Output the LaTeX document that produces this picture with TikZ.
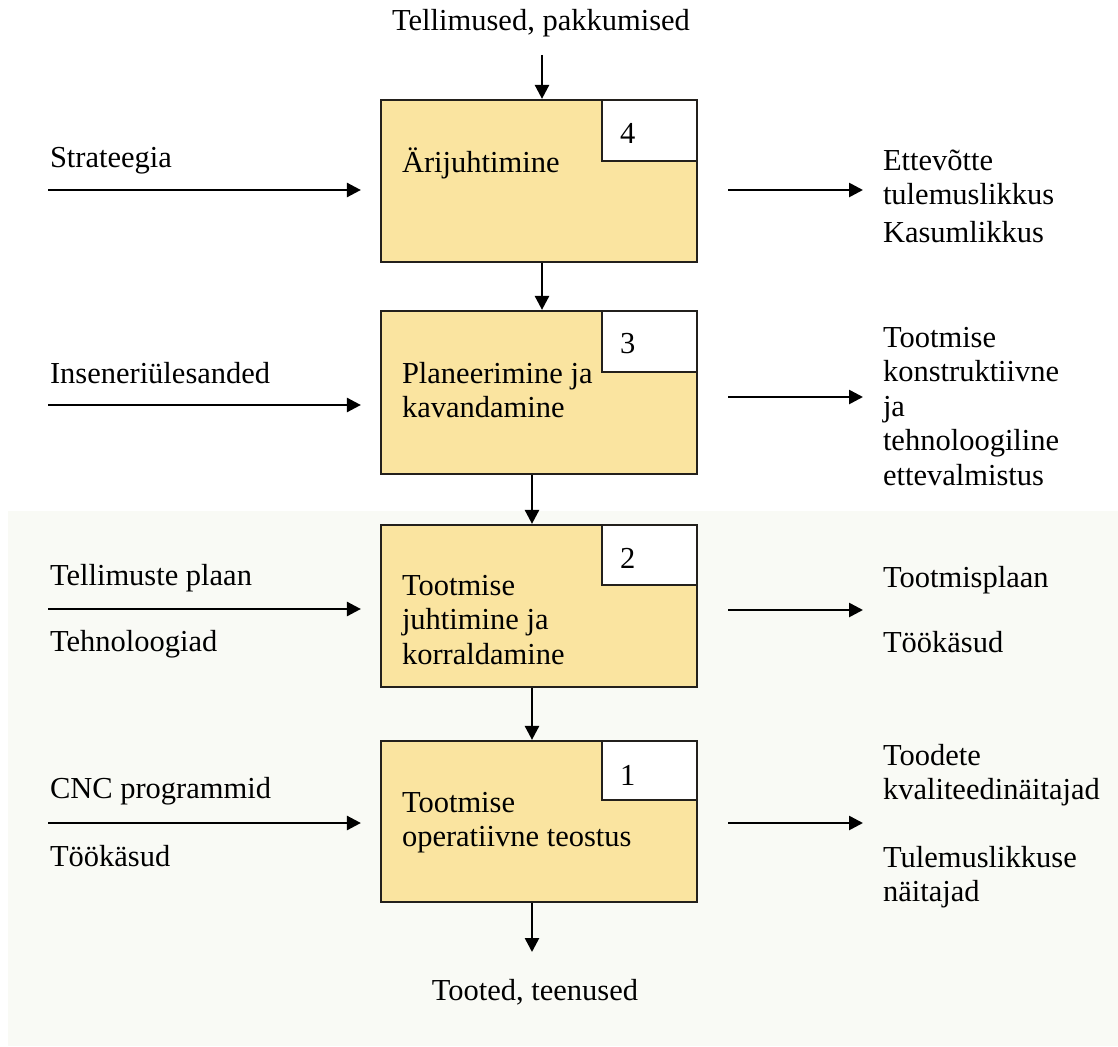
\documentclass[tikz,border=0pt]{standalone}
\usepackage{fontspec}
\setmainfont{Liberation Serif}
\usetikzlibrary{arrows.meta}
\definecolor{boxfill}{RGB}{250,228,160}
\definecolor{bgpanel}{RGB}{249,250,245}
\definecolor{edgecol}{RGB}{35,32,28}
\begin{document}
\begin{tikzpicture}[x=1pt,y=-1pt,
  txt/.style={font=\fontsize{30.5}{35}\selectfont, inner sep=0pt, outer sep=0pt, align=left, anchor=base west},
  mtxt/.style={font=\fontsize{30.5}{34.5}\selectfont, inner sep=0pt, outer sep=0pt, align=left, anchor=north west, yshift=24.15pt},
  blk/.style={draw=edgecol, line width=2.2pt, fill=boxfill, minimum width=316pt, inner sep=0pt},
  numbox/.style={draw=edgecol, line width=2.2pt, fill=white, minimum width=95pt, minimum height=61pt, inner sep=0pt, anchor=north east},
  arr/.style={line width=2.6pt, -{Triangle[length=14pt,width=14pt]}}]
\useasboundingbox (0,0) rectangle (1118,1046);
\fill[bgpanel] (8,511) rectangle (1118,1046);

% boxes
\node[blk, minimum height=162pt] (b4) at (539,181) {};
\node[blk, minimum height=163pt] (b3) at (539,392.5) {};
\node[blk, minimum height=162pt] (b2) at (539,606) {};
\node[blk, minimum height=161pt] (b1) at (539,821.5) {};
\node[numbox] (n4) at (b4.north east) {};
\node[numbox] (n3) at (b3.north east) {};
\node[numbox, minimum height=60pt] (n2) at (b2.north east) {};
\node[numbox, minimum height=59pt] (n1) at (b1.north east) {};

% numbers
\node[txt] (k4) at (620,143) {4};
\node[txt] (k3) at (620,353) {3};
\node[txt] (k2) at (620,568) {2};
\node[txt] (k1) at (620,785) {1};

% box texts
\node[txt] (t4) at (402,172) {Ärijuhtimine};
\node[mtxt] (t3) at (402,383) {\strut Planeerimine ja\\\strut kavandamine};
\node[mtxt] (t2) at (402,595) {\strut Tootmise\\\strut juhtimine ja\\\strut korraldamine};
\node[mtxt] (t1) at (402,812) {\strut Tootmise\\\strut operatiivne teostus};

% top and bottom
\node[txt, anchor=base] (top) at (541,31) {Tellimused, pakkumised};
\node[txt, anchor=base] (bot) at (535,1000) {Tooted, teenused};
\coordinate (topin) at (542,55);
\draw[arr] (topin) -- (topin |- b4.north);
\draw[arr] (b4.south -| 542,0) -- (b3.north -| 542,0);
\draw[arr] (b3.south -| 532,0) -- (b2.north -| 532,0);
\draw[arr] (b2.south -| 532,0) -- (b1.north -| 532,0);
\coordinate (botout) at (532,952);
\draw[arr] (b1.south -| botout) -- (botout);

% left inputs
\node[txt] (l4) at (50,167) {Strateegia};
\node[txt] (l3) at (50,383) {Inseneriülesanded};
\node[txt] (l2a) at (50,585) {Tellimuste plaan};
\node[txt] (l2b) at (50,651) {Tehnoloogiad};
\node[txt] (l1a) at (50,798) {CNC programmid};
\node[txt] (l1b) at (50,866) {Töökäsud};
\coordinate (i4) at (48,190);
\coordinate (i3) at (48,405);
\coordinate (i2) at (48,609);
\coordinate (i1) at (48,823);
\foreach \c/\b in {i4/b4,i3/b3,i2/b2,i1/b1}
  \draw[arr, shorten >=19pt] (\c) -- (\c -| \b.west);

% right outputs
\coordinate (o4) at (863,190);
\coordinate (o3) at (863,397);
\coordinate (o2) at (863,610);
\coordinate (o1) at (863,823);
\foreach \c/\b in {o4/b4,o3/b3,o2/b2,o1/b1}
  \draw[arr, shorten <=30pt] (\c -| \b.east) -- (\c);

\node[mtxt] (r4a) at (883,170) {\strut Ettevõtte\\\strut tulemuslikkus};
\node[txt] (r4b) at (883,242) {Kasumlikkus};
\node[mtxt] (r3) at (883,347) {\strut Tootmise\\\strut konstruktiivne\\\strut ja\\\strut tehnoloogiline\\\strut ettevalmistus};
\node[txt] (r2a) at (883,587) {Tootmisplaan};
\node[txt] (r2b) at (883,652) {Töökäsud};
\node[mtxt] (r1a) at (883,765) {\strut Toodete\\\strut kvaliteedinäitajad};
\node[mtxt] (r1b) at (883,867) {\strut Tulemuslikkuse\\\strut näitajad};
\end{tikzpicture}
\end{document}
